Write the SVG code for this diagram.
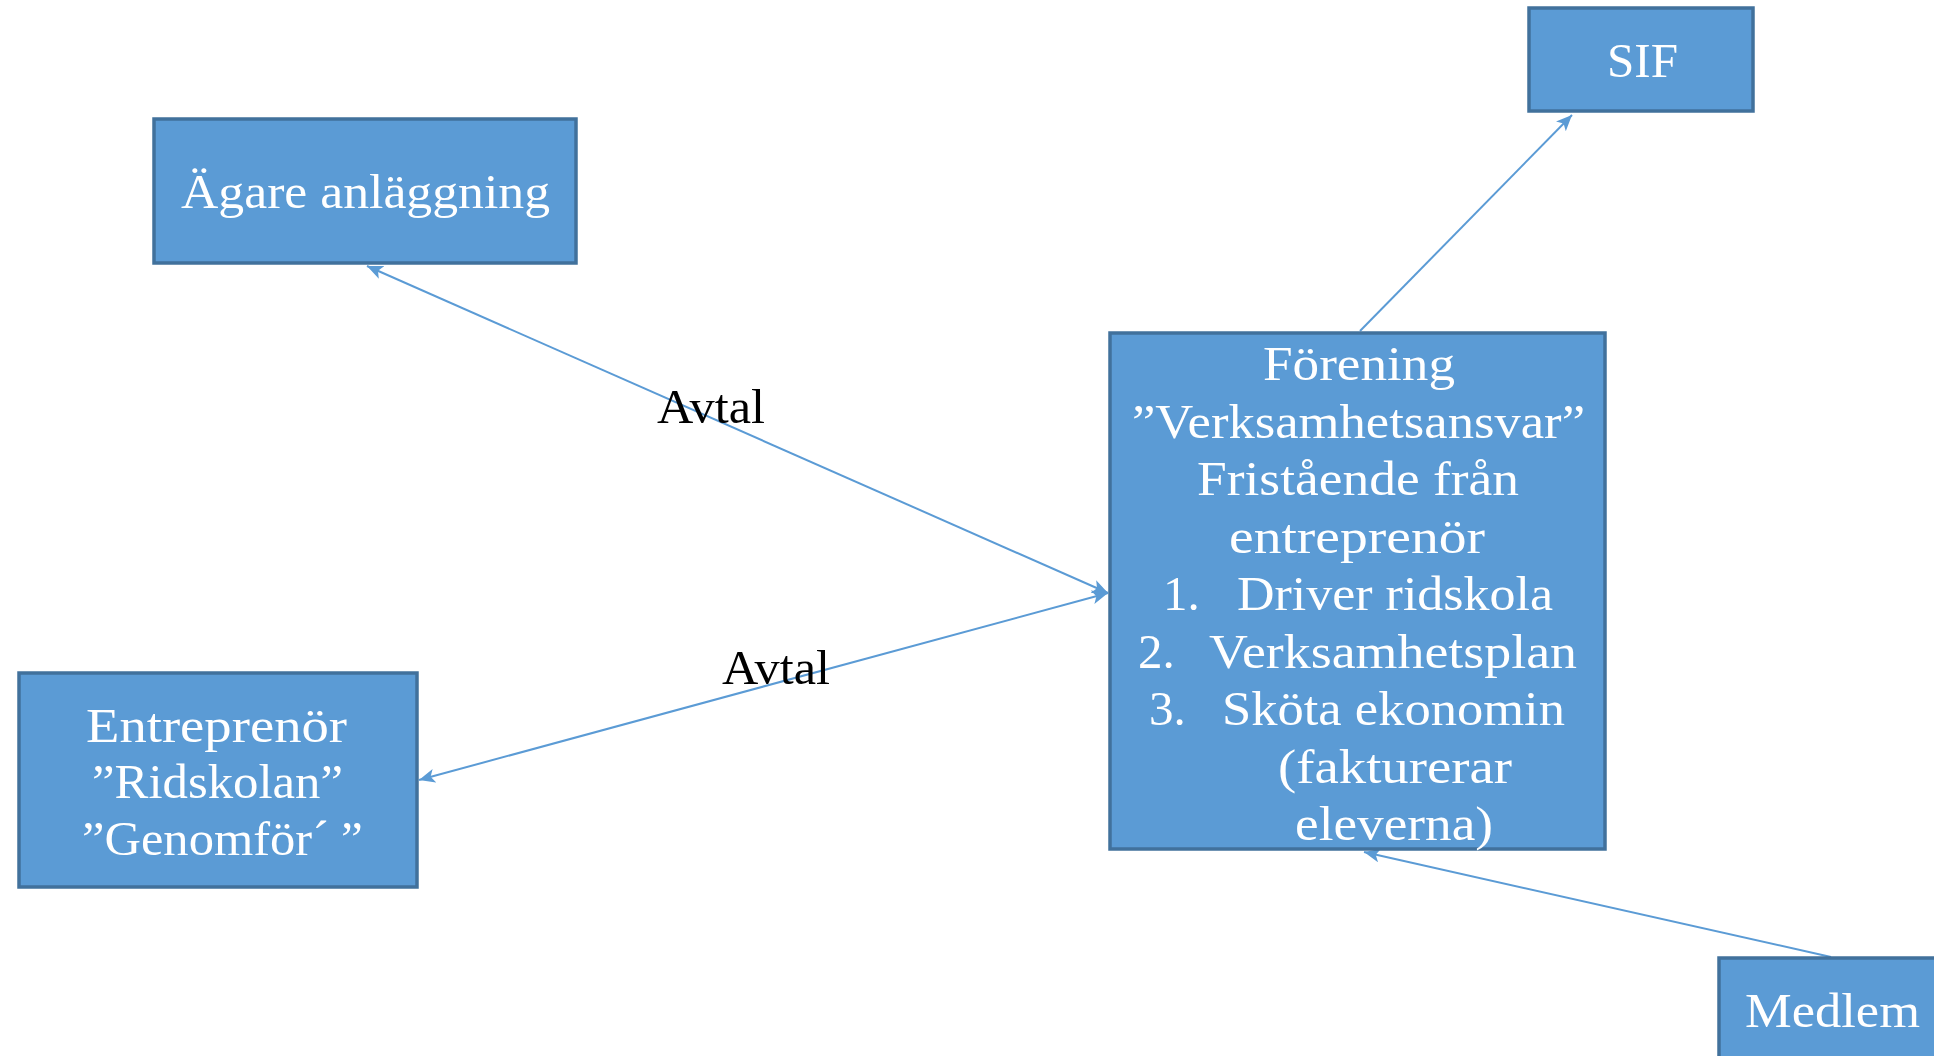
<svg xmlns="http://www.w3.org/2000/svg" width="1934" height="1056" viewBox="0 0 1934 1056">
<style>
.box{fill:#5B9BD5;stroke:#41719C;stroke-width:3.5}
.t{font-family:"Liberation Serif","Times New Roman",serif;font-size:49px;fill:#FFFFFF}
.lbl{font-family:"Liberation Serif","Times New Roman",serif;font-size:49px;fill:#000000}
.c{fill:none;stroke:#5B9BD5;stroke-width:2}
</style>
<defs>
<marker id="arr" markerUnits="userSpaceOnUse" markerWidth="17" markerHeight="15" refX="16" refY="7" orient="auto-start-reverse" viewBox="0 0 17 15">
<path d="M0,0 L16,7 L0,14 L4,7 z" fill="#5B9BD5"/>
</marker>
</defs>
<g id="connectors">
<line class="c" x1="367" y1="266" x2="1108" y2="593" marker-start="url(#arr)" marker-end="url(#arr)"/>
<line class="c" x1="419" y1="780" x2="1108" y2="593" marker-start="url(#arr)" marker-end="url(#arr)"/>
<line class="c" x1="1360" y1="331" x2="1572" y2="115" marker-end="url(#arr)"/>
<line class="c" x1="1831" y1="957" x2="1364" y2="852" marker-end="url(#arr)"/>
</g>
<g id="agare">
<rect class="box" x="154" y="119" width="422" height="144"/>
<text class="t" x="181" y="208" textLength="369" lengthAdjust="spacingAndGlyphs">Ägare anläggning</text>
</g>
<g id="sif">
<rect class="box" x="1529" y="8" width="224" height="103"/>
<text class="t" x="1607" y="77" textLength="71" lengthAdjust="spacingAndGlyphs">SIF</text>
</g>
<g id="entreprenor">
<rect class="box" x="19" y="673" width="398" height="214"/>
<text class="t" x="86" y="742" textLength="261" lengthAdjust="spacingAndGlyphs">Entreprenör</text>
<text class="t" x="92" y="798" textLength="251" lengthAdjust="spacingAndGlyphs">”Ridskolan”</text>
<text class="t" x="82" y="855"><tspan textLength="247" lengthAdjust="spacingAndGlyphs">”Genomför´</tspan><tspan x="341">”</tspan></text>
</g>
<g id="forening">
<rect class="box" x="1110" y="333" width="495" height="516"/>
<text class="t" x="1263" y="380" textLength="192" lengthAdjust="spacingAndGlyphs">Förening</text>
<text class="t" x="1132" y="437.5" textLength="453" lengthAdjust="spacingAndGlyphs">”Verksamhetsansvar”</text>
<text class="t" x="1197" y="495" textLength="322" lengthAdjust="spacingAndGlyphs">Fristående från</text>
<text class="t" x="1229" y="552.5" textLength="256" lengthAdjust="spacingAndGlyphs">entreprenör</text>
<text class="t" x="1163" y="610">1.</text>
<text class="t" x="1237" y="610" textLength="316" lengthAdjust="spacingAndGlyphs">Driver ridskola</text>
<text class="t" x="1138" y="667.5">2.</text>
<text class="t" x="1209" y="667.5" textLength="368" lengthAdjust="spacingAndGlyphs">Verksamhetsplan</text>
<text class="t" x="1149" y="725">3.</text>
<text class="t" x="1222" y="725" textLength="343" lengthAdjust="spacingAndGlyphs">Sköta ekonomin</text>
<text class="t" x="1278" y="782.5" textLength="234" lengthAdjust="spacingAndGlyphs">(fakturerar</text>
<text class="t" x="1295" y="840" textLength="198" lengthAdjust="spacingAndGlyphs">eleverna)</text>
</g>
<g id="medlem">
<rect class="box" x="1719" y="958" width="400" height="200"/>
<text class="t" x="1745" y="1027" textLength="175" lengthAdjust="spacingAndGlyphs">Medlem</text>
</g>
<g id="labels">
<text class="lbl" x="657" y="423" textLength="108" lengthAdjust="spacingAndGlyphs">Avtal</text>
<text class="lbl" x="722" y="684" textLength="108" lengthAdjust="spacingAndGlyphs">Avtal</text>
</g>
</svg>
